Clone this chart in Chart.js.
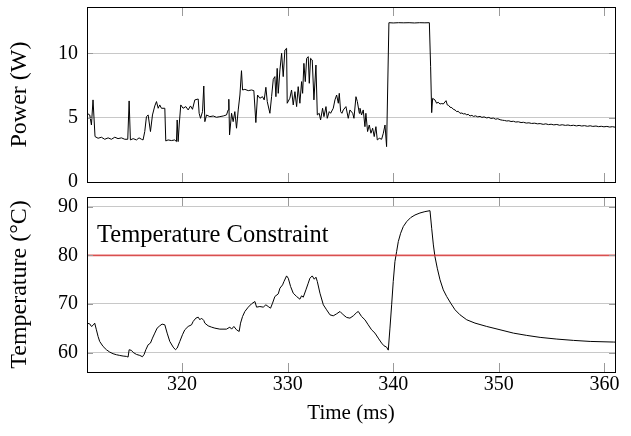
<!DOCTYPE html>
<html>
<head>
<meta charset="utf-8">
<script src="https://cdn.jsdelivr.net/npm/chart.js@4.4.1/dist/chart.umd.min.js"></script>
<style>
  html, body { margin: 0; padding: 0; background: #fff; }
  #wrap { position: relative; width: 631px; height: 436px; }
  #powerChart { position: absolute; left: 0; top: 0; }
  #tempChart { position: absolute; left: 0; top: 190px; }
</style>
</head>
<body>
<div id="wrap">
  <canvas id="powerChart" width="631" height="190"></canvas>
  <canvas id="tempChart" width="631" height="246"></canvas>
</div>
<script>
// DATA
const timeTicks = [320, 330, 340, 350, 360];
const powerTicks = [0, 5, 10];
const tempTicks = [60, 70, 80, 90];
const tempConstraint = 80;

const powerTime = [
  311.00, 311.26, 311.42, 311.57, 311.76, 312.05, 312.36, 312.68, 313.00, 313.31,
  313.63, 313.94, 314.26, 314.58, 314.86, 314.99, 315.11, 315.37, 315.68, 315.93,
  316.16, 316.31, 316.47, 316.63, 316.79, 317.01, 317.20, 317.42, 317.58, 317.74,
  317.89, 318.05, 318.37, 318.46, 318.68, 319.00, 319.31, 319.47, 319.54, 319.63,
  319.73, 319.88, 320.10, 320.36, 320.58, 320.80, 320.99, 321.21, 321.53, 321.62,
  321.75, 321.94, 322.06, 322.16, 322.32, 322.63, 322.95, 323.26, 323.58, 323.90,
  324.21, 324.37, 324.43, 324.50, 324.69, 324.84, 325.00, 325.16, 325.32, 325.48,
  325.63, 325.73, 325.95, 326.27, 326.58, 326.80, 326.99, 327.15, 327.37, 327.62,
  327.78, 327.94, 328.07, 328.32, 328.48, 328.64, 328.79, 328.89, 329.01, 329.11,
  329.27, 329.43, 329.58, 329.74, 329.90, 329.96, 330.21, 330.37, 330.53, 330.69,
  330.85, 331.00, 331.16, 331.32, 331.42, 331.54, 331.67, 331.80, 331.95, 332.05,
  332.17, 332.33, 332.49, 332.68, 332.81, 332.99, 333.12, 333.31, 333.44, 333.63,
  333.75, 333.94, 334.07, 334.32, 334.48, 334.64, 334.80, 334.89, 335.02, 335.14,
  335.27, 335.52, 335.74, 335.90, 336.16, 336.28, 336.47, 336.60, 336.79, 336.85,
  337.00, 337.16, 337.32, 337.41, 337.57, 337.73, 337.89, 338.05, 338.20, 338.36,
  338.49, 338.68, 338.90, 339.06, 339.22, 339.37, 339.59, 340.00, 340.50, 341.00,
  341.50, 342.00, 342.50, 343.00, 343.42, 343.54, 343.64, 343.73, 343.95, 344.11,
  344.25, 344.43, 344.60, 344.74, 345.00, 345.12, 345.25, 345.38, 345.55, 345.69,
  345.85, 346.01, 346.15, 346.32, 346.50, 346.64, 346.80, 346.96, 347.10, 347.27,
  347.45, 347.59, 347.80, 348.00, 348.22, 348.40, 348.60, 348.85, 349.05, 349.25,
  349.48, 349.70, 349.90, 350.12, 350.35, 350.55, 350.75, 350.95, 351.15, 351.38,
  351.60, 351.85, 352.10, 352.33, 352.60, 352.85, 353.10, 353.40, 353.65, 353.91,
  354.20, 354.45, 354.70, 354.95, 355.20, 355.49, 355.75, 356.00, 356.30, 356.55,
  356.80, 357.07, 357.35, 357.60, 357.85, 358.10, 358.40, 358.65, 358.90, 359.20,
  359.45, 359.70, 359.95, 360.23, 360.50, 360.75, 361.00
];
const powerWatts = [
  5.34, 5.21, 4.43, 6.38, 3.53, 3.40, 3.48, 3.32, 3.43, 3.32,
  3.48, 3.37, 3.43, 3.32, 3.32, 6.30, 3.27, 3.37, 3.27, 3.43,
  3.32, 3.27, 3.92, 5.08, 5.21, 3.92, 5.21, 5.91, 6.25, 5.73,
  5.99, 5.73, 5.73, 3.19, 3.27, 3.22, 3.27, 3.14, 4.82, 3.14,
  4.43, 5.99, 5.73, 5.86, 5.60, 5.91, 5.65, 6.38, 6.45, 5.34,
  4.95, 5.47, 7.46, 4.69, 5.21, 5.08, 5.13, 5.03, 5.08, 5.13,
  5.21, 5.60, 6.43, 3.66, 5.34, 4.69, 5.47, 4.18, 5.60, 6.76,
  8.65, 7.15, 7.20, 7.10, 7.15, 7.10, 4.62, 6.76, 6.51, 6.63,
  6.38, 7.36, 6.25, 5.34, 6.63, 7.98, 8.19, 6.63, 8.83, 6.89,
  8.71, 10.00, 8.19, 10.26, 10.39, 6.12, 6.51, 7.15, 5.99, 7.02,
  5.86, 7.41, 6.12, 7.80, 6.89, 9.22, 7.80, 9.61, 9.74, 7.67,
  9.61, 9.48, 6.38, 9.09, 5.21, 5.34, 4.82, 5.73, 5.08, 5.86,
  4.95, 5.47, 5.34, 5.73, 6.38, 6.76, 6.12, 6.89, 5.47, 5.34,
  5.60, 5.86, 4.95, 5.60, 5.34, 4.95, 6.63, 6.25, 5.34, 5.73,
  5.21, 5.60, 4.30, 5.34, 3.92, 4.43, 3.79, 4.18, 3.53, 4.30,
  3.27, 3.40, 3.32, 3.79, 4.43, 2.75, 12.38, 12.36, 12.38, 12.37,
  12.38, 12.36, 12.38, 12.37, 12.38, 8.96, 5.39, 6.50, 6.38, 6.12,
  6.20, 6.06, 6.10, 6.06, 6.32, 5.99, 5.95, 5.81, 5.78, 5.65,
  5.60, 5.47, 5.50, 5.34, 5.36, 5.29, 5.31, 5.22, 5.26, 5.13,
  5.18, 5.10, 5.14, 5.06, 5.10, 5.02, 5.06, 4.98, 5.02, 4.94,
  4.97, 4.88, 4.92, 4.84, 4.80, 4.78, 4.74, 4.76, 4.70, 4.72,
  4.66, 4.68, 4.62, 4.64, 4.58, 4.60, 4.55, 4.57, 4.52, 4.54,
  4.48, 4.52, 4.46, 4.49, 4.44, 4.47, 4.41, 4.45, 4.40, 4.43,
  4.38, 4.41, 4.36, 4.40, 4.35, 4.38, 4.33, 4.37, 4.32, 4.35,
  4.30, 4.33, 4.29, 4.32, 4.27, 4.30, 4.26
];

const tempTime = [
  311.00, 311.26, 311.42, 311.57, 311.73, 311.89, 312.05, 312.20, 312.52, 312.84,
  313.15, 313.47, 313.79, 314.10, 314.42, 314.73, 314.89, 314.99, 315.21, 315.37,
  315.68, 316.00, 316.25, 316.41, 316.57, 316.79, 317.01, 317.20, 317.42, 317.64,
  317.89, 318.11, 318.37, 318.59, 318.84, 319.16, 319.38, 319.54, 319.79, 320.04,
  320.26, 320.58, 320.90, 321.05, 321.31, 321.53, 321.69, 321.84, 322.06, 322.16,
  322.47, 322.79, 323.11, 323.58, 324.21, 324.53, 324.69, 324.91, 325.16, 325.41,
  325.54, 325.73, 325.95, 326.27, 326.58, 326.90, 327.06, 327.37, 327.69, 327.94,
  328.16, 328.38, 328.57, 328.79, 329.11, 329.27, 329.52, 329.65, 329.90, 330.06,
  330.28, 330.53, 330.85, 331.16, 331.32, 331.48, 331.73, 331.95, 332.11, 332.33,
  332.52, 332.68, 332.81, 333.06, 333.38, 333.69, 334.01, 334.32, 334.64, 334.96,
  335.27, 335.59, 335.90, 336.22, 336.54, 336.69, 337.00, 337.32, 337.63, 337.95,
  338.27, 338.58, 338.90, 339.12, 339.37, 339.53, 339.69, 339.85, 340.00, 340.16,
  340.32, 340.48, 340.70, 340.95, 341.27, 341.65, 342.06, 342.53, 343.00, 343.48,
  343.64, 343.80, 343.95, 344.17, 344.43, 344.74, 345.06, 345.44, 345.85, 346.32,
  346.96, 347.74, 348.85, 350.11, 351.38, 352.64, 353.91, 355.49, 357.07, 358.65,
  360.86, 361.00
];
const tempCelsius = [
  66.05, 65.90, 65.37, 65.60, 66.05, 64.68, 63.30, 62.29, 61.26, 60.58,
  60.10, 59.76, 59.55, 59.41, 59.28, 59.21, 59.07, 60.58, 60.44, 60.03,
  59.62, 59.41, 59.14, 59.62, 60.58, 61.60, 61.95, 62.97, 64.00, 65.02,
  65.50, 65.85, 65.71, 64.00, 62.29, 61.12, 60.58, 60.92, 62.29, 63.66,
  64.68, 65.37, 65.71, 66.39, 67.08, 67.28, 66.74, 67.08, 66.60, 66.05,
  65.50, 65.23, 65.02, 64.82, 64.82, 65.23, 64.82, 65.37, 64.68, 64.34,
  66.05, 67.42, 68.45, 69.34, 70.02, 70.50, 69.34, 69.47, 69.34, 69.82,
  69.47, 69.13, 70.16, 71.53, 72.07, 73.24, 73.92, 74.61, 75.77, 75.29,
  73.58, 72.21, 71.53, 70.98, 71.67, 71.39, 72.90, 74.27, 75.29, 75.77,
  75.09, 75.50, 74.61, 72.21, 69.82, 68.79, 67.76, 67.56, 67.97, 68.45,
  67.76, 67.22, 67.08, 67.56, 68.24, 68.45, 67.42, 66.74, 65.71, 64.68,
  64.00, 62.97, 61.95, 61.40, 61.12, 60.50, 65.03, 69.82, 74.62, 78.72,
  80.77, 82.83, 84.54, 85.91, 86.93, 87.76, 88.30, 88.71, 88.99, 89.19,
  85.57, 82.14, 79.75, 77.35, 74.96, 72.90, 71.53, 70.17, 68.80, 67.77,
  66.74, 66.06, 65.37, 64.69, 64.00, 63.53, 63.12, 62.77, 62.50, 62.29,
  62.16, 62.15
];

// SETTINGS
const T_MIN = 311, T_MAX = 361;
const SERIF = "'Liberation Serif', 'DejaVu Serif', serif";
const TICK_FONT = { family: SERIF, size: 20, lineHeight: 1 };
const X_TITLE_FONT = { family: SERIF, size: 21 };
const Y_TITLE_FONT = { family: SERIF, size: 24 };
const GRID = '#c8c8c8';

const toPoints = (xs, ys) => xs.map((x, i) => ({ x, y: ys[i] }));

// frame + inward tick marks, pgfplots style
const framePlugin = {
  id: 'frame',
  afterDatasetsDraw(chart) {
    const { ctx, chartArea: a, scales } = chart;
    ctx.save();
    ctx.strokeStyle = '#9a9a9a';
    ctx.lineWidth = 1;
    ctx.beginPath();
    timeTicks.forEach(t => {
      const x = Math.round(scales.x.getPixelForValue(t)) + 0.5;
      ctx.moveTo(x, a.top); ctx.lineTo(x, a.top + 9);
      ctx.moveTo(x, a.bottom); ctx.lineTo(x, a.bottom - 9);
    });
    scales.y.ticks.forEach(tk => {
      const y = Math.round(scales.y.getPixelForValue(tk.value)) + 0.5;
      ctx.moveTo(a.left, y); ctx.lineTo(a.left + 6, y);
      ctx.moveTo(a.right, y); ctx.lineTo(a.right - 6, y);
    });
    ctx.stroke();
    ctx.strokeStyle = '#000';
    ctx.strokeRect(Math.round(a.left) + 0.5, Math.round(a.top) + 0.5,
      Math.round(a.right - a.left), Math.round(a.bottom - a.top));
    ctx.restore();
  }
};

const constraintLabel = {
  id: 'constraintLabel',
  afterDatasetsDraw(chart) {
    const { ctx, chartArea: a, scales } = chart;
    const y = scales.y.getPixelForValue(tempConstraint);
    ctx.save();
    ctx.font = `24.5px ${SERIF}`;
    ctx.fillStyle = '#000';
    ctx.textBaseline = 'alphabetic';
    ctx.fillText('Temperature Constraint', a.left + 10, y - 13);
    ctx.restore();
  }
};

function makeOptions(yMin, yMax, yTicks, yTitle, showX) {
  return {
    responsive: false,
    animation: false,
    devicePixelRatio: 1,
    layout: { padding: { top: 7, right: 16, bottom: showX ? 0 : 8, left: 0 } },
    plugins: { legend: { display: false }, tooltip: { enabled: false } },
    elements: { point: { radius: 0 }, line: { borderWidth: 1, tension: 0 } },
    scales: {
      x: {
        type: 'linear',
        display: showX,
        min: T_MIN,
        max: T_MAX,
        grid: { display: false },
        border: { display: false },
        afterBuildTicks: s => { s.ticks = timeTicks.map(v => ({ value: v })); },
        afterFit: s => {
          if (showX) s.height = 64;
          s.paddingLeft = 0; s.paddingRight = 0;
        },
        ticks: { font: TICK_FONT, color: '#000', padding: -5, autoSkip: false, maxRotation: 0 },
        title: { display: true, text: 'Time (ms)', font: X_TITLE_FONT, color: '#000', padding: { top: 0, bottom: 10 } }
      },
      y: {
        min: yMin,
        max: yMax,
        grid: { color: GRID, lineWidth: 1, drawTicks: false },
        border: { display: false },
        afterBuildTicks: s => { s.ticks = yTicks.map(v => ({ value: v })); },
        afterFit: s => {
          s.width = 87;
          s.paddingTop = 0; s.paddingBottom = 0;
        },
        ticks: { font: TICK_FONT, color: '#000', padding: 9 },
        title: { display: true, text: yTitle, font: Y_TITLE_FONT, color: '#000', padding: { top: 5, bottom: 0 } }
      }
    }
  };
}

new Chart(document.getElementById('powerChart'), {
  type: 'line',
  data: {
    datasets: [{
      data: toPoints(powerTime, powerWatts),
      borderColor: '#000'
    }]
  },
  options: makeOptions(0, 13.6, powerTicks, 'Power (W)', false),
  plugins: [framePlugin]
});

new Chart(document.getElementById('tempChart'), {
  type: 'line',
  data: {
    datasets: [
      {
        data: [{ x: T_MIN, y: tempConstraint }, { x: T_MAX, y: tempConstraint }],
        borderColor: 'rgba(220, 50, 50, 0.8)',
        borderWidth: 1.6
      },
      {
        data: toPoints(tempTime, tempCelsius),
        borderColor: '#000'
      }
    ]
  },
  options: makeOptions(56, 92, tempTicks, 'Temperature (\u00B0C)', true),
  plugins: [framePlugin, constraintLabel]
});
</script>
</body>
</html>
